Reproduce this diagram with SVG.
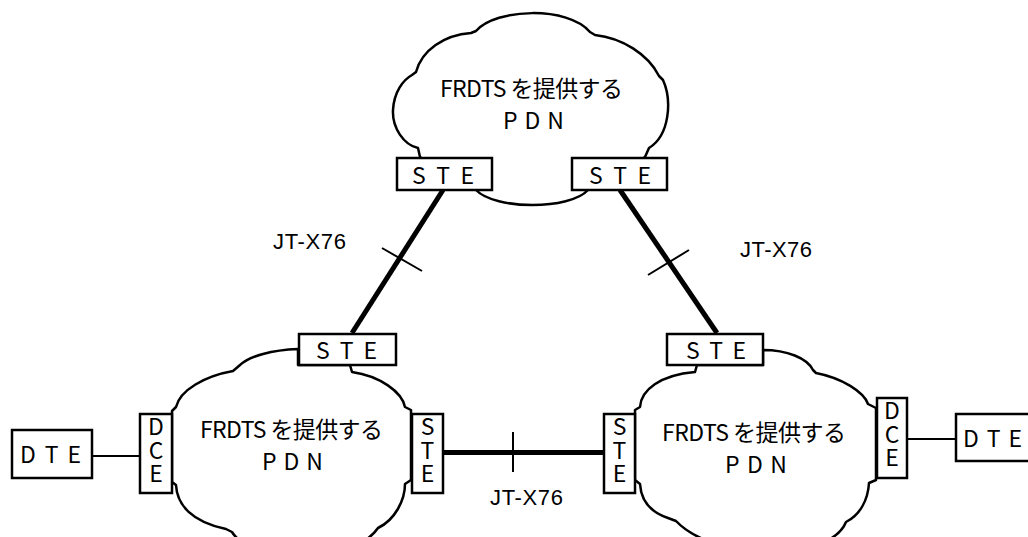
<svg xmlns="http://www.w3.org/2000/svg" width="1028" height="537" viewBox="0 0 1028 537">
  <style>
    .cloud { fill: #fff; stroke: #000; stroke-width: 2.5; stroke-linejoin: round; }
    .box { fill: #fff; stroke: #000; stroke-width: 2.5; }
    .trunk { stroke: #000; stroke-width: 5; fill: none; }
    .thin { stroke: #000; stroke-width: 2; fill: none; }
    .jp { font-family: "Noto Sans CJK JP", "Noto Sans", sans-serif; font-size: 23px; fill: #000; }
    .lbl { font-family: "Liberation Sans", Arial, sans-serif; font-size: 22px; fill: #000; }
    .vt { writing-mode: vertical-rl; text-orientation: upright; letter-spacing: 0.5px; }
  </style>

  <rect width="1028" height="537" fill="#fff"/>

  <!-- packet networks -->
  <g id="pdn-top">
    <path class="cloud" d="M 420,157 L 418,148 C 404,145 392,128 393,110 C 394,92 403,80 412,75 L 416,72 C 422,50 444,35 471,33 L 476,31 C 496,8 568,6 590,32 L 595,35 C 622,38 648,54 659,76 L 663,80 C 672,100 670,135 649,148 L 645,157 L 588,190 C 570,210 495,210 476,190 Z"/>
    <text class="jp" x="440" y="97" textLength="183" lengthAdjust="spacing">FRDTS を提供する</text>
    <text class="jp" x="503" y="129" textLength="61" lengthAdjust="spacing">P D N</text>
  </g>

  <g id="pdn-left">
    <path class="cloud" d="M 298,349 C 272,350 250,356 240,365 L 233,371 C 205,376 180,390 176,407 L 172,411 L 172,482 L 176,485 C 177,505 192,522 226,529 L 232,532 C 250,562 352,566 378,528 C 395,520 405,500 405,484 L 411,480 L 411,410 L 405,407 C 402,392 380,376 352,372 L 350,365 L 298,365 Z"/>
    <text class="jp" x="200" y="438" textLength="183" lengthAdjust="spacing">FRDTS を提供する</text>
    <text class="jp" x="262" y="470" textLength="61" lengthAdjust="spacing">P D N</text>
  </g>

  <g id="pdn-right">
    <path class="cloud" d="M 763,350 C 787,350 807,358 813,370 L 816,373 C 842,378 864,392 868,404 L 876,408 L 876,480 L 869,483 C 868,500 860,515 846,522 C 830,562 715,562 676,521 L 668,518 C 650,512 641,500 640,484 L 635,480 L 635,410 L 640,407 C 641,390 660,375 695,372 L 697,365 L 763,365 Z"/>
    <text class="jp" x="662" y="441" textLength="184" lengthAdjust="spacing">FRDTS を提供する</text>
    <text class="jp" x="725" y="473" textLength="62" lengthAdjust="spacing">P D N</text>
  </g>

  <!-- links -->
  <g id="connectors">
    <line class="trunk" x1="443" y1="190" x2="352" y2="333"/>
    <line class="thin" x1="382" y1="248" x2="422" y2="271"/>
    <line class="trunk" x1="620" y1="190" x2="717" y2="333"/>
    <line class="thin" x1="648" y1="275" x2="689" y2="250"/>
    <line class="trunk" x1="443" y1="452.5" x2="603" y2="452.5"/>
    <line class="thin" x1="513" y1="432" x2="513" y2="472"/>
    <line class="thin" x1="92" y1="456" x2="140" y2="456"/>
    <line class="thin" x1="907" y1="439" x2="956" y2="439"/>
    <text class="lbl" x="273" y="249" textLength="73" lengthAdjust="spacing">JT-X76</text>
    <text class="lbl" x="740" y="257" textLength="72" lengthAdjust="spacing">JT-X76</text>
    <text class="lbl" x="490" y="505" textLength="73" lengthAdjust="spacing">JT-X76</text>
  </g>

  <!-- exchange terminals -->
  <g id="ste-top-left">
    <rect class="box" x="397" y="158" width="95" height="32"/>
    <text class="jp" x="412" y="184" textLength="62" lengthAdjust="spacing">S T E</text>
  </g>
  <g id="ste-top-right">
    <rect class="box" x="572" y="158" width="95" height="32"/>
    <text class="jp" x="589" y="184" textLength="62" lengthAdjust="spacing">S T E</text>
  </g>
  <g id="ste-left-top">
    <rect class="box" x="299" y="334" width="97" height="31"/>
    <text class="jp" x="316" y="359" textLength="61" lengthAdjust="spacing">S T E</text>
  </g>
  <g id="ste-right-top">
    <rect class="box" x="667" y="334" width="96" height="31"/>
    <text class="jp" x="686" y="359" textLength="60" lengthAdjust="spacing">S T E</text>
  </g>
  <!-- stacked labels, set in vertical writing mode -->
  <g id="ste-left-side">
    <rect class="box" x="412" y="414" width="31" height="79"/>
    <text class="jp vt" x="427.5" y="415">STE</text>
  </g>
  <g id="ste-right-side">
    <rect class="box" x="604" y="414" width="31" height="79"/>
    <text class="jp vt" x="619.5" y="415">STE</text>
  </g>

  <!-- circuit terminating equipment -->
  <g id="dce-left">
    <rect class="box" x="140" y="414" width="32" height="79"/>
    <text class="jp vt" x="156" y="415">DCE</text>
  </g>
  <g id="dce-right">
    <rect class="box" x="877" y="398" width="30" height="80"/>
    <text class="jp vt" x="892" y="399">DCE</text>
  </g>

  <!-- terminals -->
  <g id="dte-left">
    <rect class="box" x="12" y="430" width="80" height="48"/>
    <text class="jp" x="20" y="463" textLength="61" lengthAdjust="spacing">D T E</text>
  </g>
  <g id="dte-right">
    <rect class="box" x="956" y="414" width="80" height="47"/>
    <text class="jp" x="963" y="447" textLength="59" lengthAdjust="spacing">D T E</text>
  </g>
</svg>
